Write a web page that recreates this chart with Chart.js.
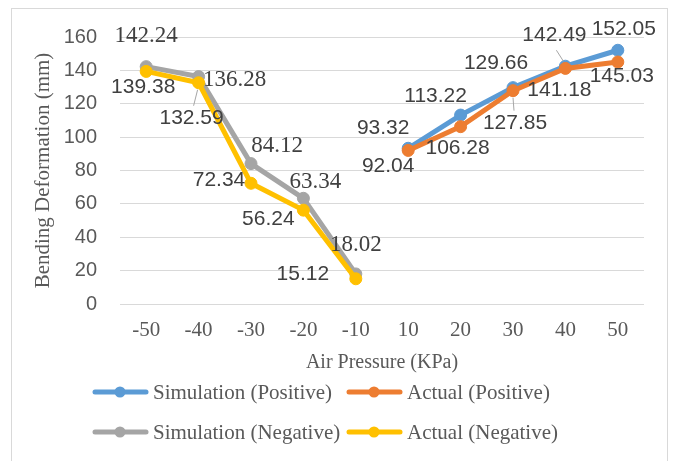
<!DOCTYPE html>
<html>
<head>
<meta charset="utf-8">
<script src="https://cdn.jsdelivr.net/npm/chart.js@4/dist/chart.umd.min.js"></script>
<style>
  html, body { margin: 0; padding: 0; background: #ffffff; }
  #wrap { width: 675px; height: 461px; position: relative; }
</style>
</head>
<body>
<div id="wrap"><canvas id="c" width="675" height="461"></canvas></div>
<script>
// ---- data ----
const categories = ['-50', '-40', '-30', '-20', '-10', '10', '20', '30', '40', '50'];
const simPositive = [null, null, null, null, null, 93.32, 113.22, 129.66, 142.49, 152.05];
const actPositive = [null, null, null, null, null, 92.04, 106.28, 127.85, 141.18, 145.03];
const simNegative = [142.24, 136.28, 84.12, 63.34, 18.02, null, null, null, null, null];
const actNegative = [139.38, 132.59, 72.34, 56.24, 15.12, null, null, null, null, null];
const seriesNames = ['Simulation (Positive)', 'Actual (Positive)', 'Simulation (Negative)', 'Actual (Negative)'];
const xTitle = 'Air Pressure (KPa)';
const yTitle = 'Bending Deformation (mm)';

// ---- styling (label placement relative to each point) ----
const colors = ['#5B9BD5', '#ED7D31', '#A5A5A5', '#FFC000'];
const labelOffsets = [
  [null, null, null, null, null, [-25, -20], [-25, -19], [-17, -24], [-11, -31], [6, -21]],
  [null, null, null, null, null, [-20, 16], [-3, 22], [2, 33], [-6, 22], [4, 14]],
  [[0, -31], [36, 3], [26, -18], [12, -16], [0, -29], null, null, null, null, null],
  [[-3, 16], [-7, 35], [-32, -3], [-35, 9], [-53, -5], null, null, null, null, null]
];
const leaderLines = [
  [null, null, null, null, null, null, null, null, [[-9, -16], [-2, -5]], null],
  [null, null, null, null, null, null, null, [[0, 7], [1, 20]], null, null],
  [null, null, null, null, null, null, null, null, null, null],
  [null, [[-1, 7], [-5, 23]], null, null, null, null, null, null, null, null]
];
const labelFonts = ['21px "Liberation Sans"', '21px "Liberation Sans"', '23px "Liberation Serif"', '21px "Liberation Sans"'];

const seriesData = [simPositive, actPositive, simNegative, actNegative];
const drawOrder = [3, 2, 1, 0];

const datasets = seriesData.map((d, i) => ({
  label: seriesNames[i],
  data: d,
  borderColor: colors[i],
  backgroundColor: colors[i],
  pointBackgroundColor: colors[i],
  pointBorderColor: colors[i],
  borderWidth: 5,
  pointRadius: 6,
  pointBorderWidth: 1,
  pointHoverRadius: 6,
  tension: 0,
  spanGaps: false,
  order: drawOrder[i]
}));

const frame = {
  id: 'frame',
  beforeDraw(chart) {
    const ctx = chart.ctx;
    ctx.save();
    ctx.fillStyle = '#ffffff';
    ctx.fillRect(0, 0, chart.width, chart.height);
    ctx.strokeStyle = '#d9d9d9';
    ctx.lineWidth = 1;
    ctx.strokeRect(11.5, 8.5, 656, 462);
    ctx.restore();
  }
};

const labelsPlugin = {
  id: 'dataLabels',
  afterDatasetsDraw(chart) {
    const ctx = chart.ctx;
    ctx.save();
    chart.data.datasets.forEach((ds, di) => {
      const meta = chart.getDatasetMeta(di);
      ds.data.forEach((v, i) => {
        if (v === null || v === undefined) return;
        const el = meta.data[i];
        const off = labelOffsets[di][i] || [0, -20];
        const lead = leaderLines[di][i];
        if (lead) {
          ctx.strokeStyle = '#a6a6a6';
          ctx.lineWidth = 1;
          ctx.beginPath();
          ctx.moveTo(el.x + lead[0][0], el.y + lead[0][1]);
          ctx.lineTo(el.x + lead[1][0], el.y + lead[1][1]);
          ctx.stroke();
        }
        ctx.font = labelFonts[di];
        ctx.fillStyle = '#404040';
        ctx.textAlign = 'center';
        ctx.textBaseline = 'middle';
        ctx.fillText(v.toFixed(2), el.x + off[0], el.y + off[1]);
      });
    });
    ctx.restore();
  }
};

const titlesLegend = {
  id: 'titlesLegend',
  afterDraw(chart) {
    const ctx = chart.ctx;
    const ca = chart.chartArea;
    ctx.save();
    ctx.fillStyle = '#595959';
    ctx.font = '20px "Liberation Serif"';
    ctx.textAlign = 'center';
    ctx.textBaseline = 'middle';
    ctx.fillText(xTitle, (ca.left + ca.right) / 2, ca.bottom + 59);
    ctx.save();
    ctx.translate(43, (ca.top + ca.bottom) / 2);
    ctx.rotate(-Math.PI / 2);
    ctx.font = '21px "Liberation Serif"';
    ctx.fillText(yTitle, 0, 0);
    ctx.restore();

    // legend
    const colX = [93, 347];
    const rowY = [ca.bottom + 88, ca.bottom + 128];
    ctx.font = '21px "Liberation Serif"';
    ctx.textAlign = 'left';
    seriesNames.forEach((name, i) => {
      const x = colX[i % 2];
      const y = rowY[Math.floor(i / 2)];
      ctx.strokeStyle = colors[i];
      ctx.lineWidth = 5;
      ctx.lineCap = 'round';
      ctx.beginPath();
      ctx.moveTo(x + 2, y);
      ctx.lineTo(x + 53, y);
      ctx.stroke();
      ctx.fillStyle = colors[i];
      ctx.beginPath();
      ctx.arc(x + 27, y, 5.5, 0, Math.PI * 2);
      ctx.fill();
      ctx.fillStyle = '#595959';
      ctx.fillText(name, x + 60, y + 1);
    });
    ctx.restore();
  }
};

new Chart(document.getElementById('c'), {
  type: 'line',
  data: { labels: categories, datasets },
  options: {
    responsive: false,
    animation: false,
    devicePixelRatio: 1,
    layout: { padding: { top: 37, right: 31, bottom: 0, left: 0 } },
    plugins: {
      legend: { display: false },
      tooltip: { enabled: false },
      title: { display: false }
    },
    scales: {
      x: {
        type: 'category',
        offset: true,
        grid: { display: false, drawTicks: false },
        border: { display: false },
        ticks: {
          color: '#595959',
          font: { family: 'Liberation Serif', size: 21 },
          padding: 14,
          maxRotation: 0,
          autoSkip: false
        },
        afterFit(scale) { scale.height = 157; }
      },
      y: {
        min: 0,
        max: 160,
        grid: { color: '#d9d9d9', lineWidth: 1, drawTicks: false },
        border: { display: false },
        ticks: {
          stepSize: 20,
          color: '#595959',
          font: { family: 'Liberation Sans', size: 20 },
          padding: 23
        },
        afterFit(scale) { scale.width = 120; }
      }
    }
  },
  plugins: [frame, labelsPlugin, titlesLegend]
});
</script>
</body>
</html>
